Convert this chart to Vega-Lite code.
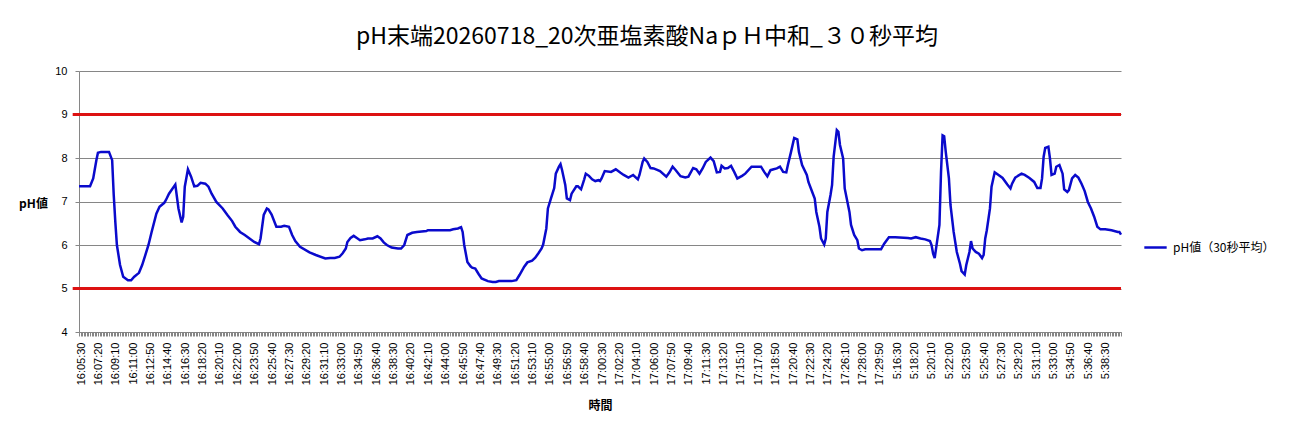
{
  "$schema": "https://vega.github.io/schema/vega-lite/v6.json",
  "autosize": {"type": "none"},
  "padding": {"left": 79, "top": 71, "right": 173, "bottom": 101},
  "width": 1042,
  "height": 261,
  "background": "white",
  "title": {
    "text": "pH末端20260718_20次亜塩素酸NaｐＨ中和_３０秒平均",
    "font": "Noto Sans CJK JP",
    "fontSize": 23,
    "fontWeight": "normal",
    "color": "#000000",
    "anchor": "middle",
    "dx": 47,
    "dy": 29,
    "baseline": "middle",
    "offset": 34
  },
  "config": {
    "view": {"stroke": null},
    "axis": {"domainColor": "#868686", "gridColor": "#868686", "tickColor": "#868686"},
    "axisY": {
      "values": [4, 5, 6, 7, 8, 9, 10],
      "grid": true,
      "tickSize": 4,
      "labelPadding": 8,
      "labelFont": "Liberation Sans",
      "labelFontSize": 11,
      "labelColor": "#000000",
      "titleFont": "Noto Sans CJK JP",
      "titleFontSize": 12,
      "titleFontWeight": "bold",
      "titleColor": "#000000",
      "titleAngle": 0,
      "titleX": -46,
      "titleY": 132,
      "titleAlign": "center",
      "titleBaseline": "middle"
    }
  },
  "resolve": {"axis": {"x": "independent"}},
  "layer": [
    {
      "data": {"values": [{"基準値": 9}, {"基準値": 5}]},
      "mark": {"type": "rule", "color": "#dd1111", "strokeWidth": 3},
      "encoding": {
        "y": {"field": "基準値", "type": "quantitative", "scale": {"domain": [4, 10]}, "title": "pH値"},
        "x": {
          "datum": -40,
          "type": "quantitative",
          "scale": {"domain": [0, 6600]},
          "axis": {"orient": "bottom", "tickCount": 660, "labels": false, "domain": false, "grid": false, "title": null, "tickSize": 4, "tickColor": "#868686"}
        },
        "x2": {"datum": 6600}
      }
    },
    {
      "data": {
        "values": [
          {"経過秒": 0, "pH値": 7.35}, {"経過秒": 70, "pH値": 7.35}, {"経過秒": 90, "pH値": 7.53}, {"経過秒": 110, "pH値": 7.95},
          {"経過秒": 120, "pH値": 8.12}, {"経過秒": 140, "pH値": 8.14}, {"経過秒": 190, "pH値": 8.14}, {"経過秒": 210, "pH値": 7.95},
          {"経過秒": 220, "pH値": 7.15}, {"経過秒": 230, "pH値": 6.53}, {"経過秒": 240, "pH値": 6.0}, {"経過秒": 260, "pH値": 5.54},
          {"経過秒": 280, "pH値": 5.27}, {"経過秒": 310, "pH値": 5.19}, {"経過秒": 330, "pH値": 5.19}, {"経過秒": 350, "pH値": 5.27},
          {"経過秒": 380, "pH値": 5.36}, {"経過秒": 400, "pH値": 5.54}, {"経過秒": 420, "pH値": 5.77}, {"経過秒": 440, "pH値": 6.0},
          {"経過秒": 460, "pH値": 6.3}, {"経過秒": 490, "pH値": 6.72}, {"経過秒": 510, "pH値": 6.88}, {"経過秒": 540, "pH値": 6.97},
          {"経過秒": 550, "pH値": 7.03}, {"経過秒": 570, "pH値": 7.18}, {"経過秒": 610, "pH値": 7.39}, {"経過秒": 630, "pH値": 6.84},
          {"経過秒": 650, "pH値": 6.52}, {"経過秒": 660, "pH値": 6.65}, {"経過秒": 670, "pH値": 7.34}, {"経過秒": 690, "pH値": 7.74},
          {"経過秒": 710, "pH値": 7.57}, {"経過秒": 730, "pH値": 7.35}, {"経過秒": 750, "pH値": 7.36}, {"経過秒": 770, "pH値": 7.43},
          {"経過秒": 800, "pH値": 7.41}, {"経過秒": 820, "pH値": 7.34}, {"経過秒": 840, "pH値": 7.18}, {"経過秒": 870, "pH値": 6.99},
          {"経過秒": 910, "pH値": 6.84}, {"経過秒": 940, "pH値": 6.69}, {"経過秒": 970, "pH値": 6.55}, {"経過秒": 990, "pH値": 6.42},
          {"経過秒": 1020, "pH値": 6.3}, {"経過秒": 1050, "pH値": 6.23}, {"経過秒": 1080, "pH値": 6.15}, {"経過秒": 1110, "pH値": 6.07},
          {"経過秒": 1140, "pH値": 6.02}, {"経過秒": 1150, "pH値": 6.15}, {"経過秒": 1170, "pH値": 6.69}, {"経過秒": 1190, "pH値": 6.84},
          {"経過秒": 1200, "pH値": 6.82}, {"経過秒": 1220, "pH値": 6.7}, {"経過秒": 1250, "pH値": 6.42}, {"経過秒": 1280, "pH値": 6.42},
          {"経過秒": 1300, "pH値": 6.44}, {"経過秒": 1330, "pH値": 6.42}, {"経過秒": 1350, "pH値": 6.23}, {"経過秒": 1370, "pH値": 6.09},
          {"経過秒": 1400, "pH値": 5.96}, {"経過秒": 1460, "pH値": 5.83}, {"経過秒": 1500, "pH値": 5.77}, {"経過秒": 1560, "pH値": 5.69},
          {"経過秒": 1590, "pH値": 5.7}, {"経過秒": 1620, "pH値": 5.7}, {"経過秒": 1650, "pH値": 5.73}, {"経過秒": 1670, "pH値": 5.81},
          {"経過秒": 1690, "pH値": 5.92}, {"経過秒": 1700, "pH値": 6.07}, {"経過秒": 1720, "pH値": 6.16}, {"経過秒": 1740, "pH値": 6.21},
          {"経過秒": 1760, "pH値": 6.16}, {"経過秒": 1780, "pH値": 6.11}, {"経過秒": 1810, "pH値": 6.13}, {"経過秒": 1830, "pH値": 6.15},
          {"経過秒": 1860, "pH値": 6.15}, {"経過秒": 1890, "pH値": 6.2}, {"経過秒": 1910, "pH値": 6.15}, {"経過秒": 1930, "pH値": 6.06},
          {"経過秒": 1950, "pH値": 6.0}, {"経過秒": 1980, "pH値": 5.94}, {"経過秒": 2020, "pH値": 5.92}, {"経過秒": 2040, "pH値": 5.92},
          {"経過秒": 2060, "pH値": 6.0}, {"経過秒": 2080, "pH値": 6.23}, {"経過秒": 2110, "pH値": 6.28}, {"経過秒": 2140, "pH値": 6.3},
          {"経過秒": 2200, "pH値": 6.32}, {"経過秒": 2210, "pH値": 6.34}, {"経過秒": 2270, "pH値": 6.34}, {"経過秒": 2350, "pH値": 6.34},
          {"経過秒": 2370, "pH値": 6.36}, {"経過秒": 2400, "pH値": 6.38}, {"経過秒": 2420, "pH値": 6.41}, {"経過秒": 2430, "pH値": 6.3},
          {"経過秒": 2440, "pH値": 6.0}, {"経過秒": 2460, "pH値": 5.61}, {"経過秒": 2480, "pH値": 5.51}, {"経過秒": 2490, "pH値": 5.48},
          {"経過秒": 2510, "pH値": 5.46}, {"経過秒": 2530, "pH値": 5.34}, {"経過秒": 2550, "pH値": 5.23}, {"経過秒": 2590, "pH値": 5.17},
          {"経過秒": 2620, "pH値": 5.15}, {"経過秒": 2640, "pH値": 5.15}, {"経過秒": 2660, "pH値": 5.17}, {"経過秒": 2700, "pH値": 5.17},
          {"経過秒": 2740, "pH値": 5.17}, {"経過秒": 2770, "pH値": 5.19}, {"経過秒": 2790, "pH値": 5.31}, {"経過秒": 2820, "pH値": 5.5},
          {"経過秒": 2840, "pH値": 5.6}, {"経過秒": 2870, "pH値": 5.64}, {"経過秒": 2890, "pH値": 5.71}, {"経過秒": 2910, "pH値": 5.81},
          {"経過秒": 2930, "pH値": 5.92}, {"経過秒": 2940, "pH値": 6.01}, {"経過秒": 2960, "pH値": 6.38}, {"経過秒": 2970, "pH値": 6.84},
          {"経過秒": 2990, "pH値": 7.08}, {"経過秒": 3010, "pH値": 7.31}, {"経過秒": 3020, "pH値": 7.64}, {"経過秒": 3040, "pH値": 7.8},
          {"経過秒": 3050, "pH値": 7.86}, {"経過秒": 3060, "pH値": 7.72}, {"経過秒": 3080, "pH値": 7.38}, {"経過秒": 3090, "pH値": 7.07},
          {"経過秒": 3110, "pH値": 7.03}, {"経過秒": 3120, "pH値": 7.18}, {"経過秒": 3150, "pH値": 7.35}, {"経過秒": 3160, "pH値": 7.35},
          {"経過秒": 3180, "pH値": 7.28}, {"経過秒": 3200, "pH値": 7.51}, {"経過秒": 3210, "pH値": 7.64}, {"経過秒": 3230, "pH値": 7.59},
          {"経過秒": 3250, "pH値": 7.51}, {"経過秒": 3270, "pH値": 7.47}, {"経過秒": 3290, "pH値": 7.49}, {"経過秒": 3300, "pH値": 7.47},
          {"経過秒": 3310, "pH値": 7.53}, {"経過秒": 3330, "pH値": 7.7}, {"経過秒": 3370, "pH値": 7.68}, {"経過秒": 3400, "pH値": 7.74},
          {"経過秒": 3430, "pH値": 7.66}, {"経過秒": 3450, "pH値": 7.61}, {"経過秒": 3480, "pH値": 7.55}, {"経過秒": 3510, "pH値": 7.61},
          {"経過秒": 3540, "pH値": 7.51}, {"経過秒": 3550, "pH値": 7.61}, {"経過秒": 3570, "pH値": 7.91}, {"経過秒": 3580, "pH値": 7.99},
          {"経過秒": 3600, "pH値": 7.91}, {"経過秒": 3620, "pH値": 7.77}, {"経過秒": 3640, "pH値": 7.76}, {"経過秒": 3680, "pH値": 7.7},
          {"経過秒": 3720, "pH値": 7.57}, {"経過秒": 3740, "pH値": 7.67}, {"経過秒": 3760, "pH値": 7.8}, {"経過秒": 3780, "pH値": 7.72},
          {"経過秒": 3810, "pH値": 7.58}, {"経過秒": 3840, "pH値": 7.55}, {"経過秒": 3860, "pH値": 7.57}, {"経過秒": 3890, "pH値": 7.77},
          {"経過秒": 3910, "pH値": 7.74}, {"経過秒": 3930, "pH値": 7.64}, {"経過秒": 3950, "pH値": 7.76}, {"経過秒": 3970, "pH値": 7.91},
          {"経過秒": 4000, "pH値": 8.01}, {"経過秒": 4020, "pH値": 7.93}, {"経過秒": 4040, "pH値": 7.67}, {"経過秒": 4060, "pH値": 7.68},
          {"経過秒": 4070, "pH値": 7.82}, {"経過秒": 4090, "pH値": 7.76}, {"経過秒": 4110, "pH値": 7.77}, {"経過秒": 4130, "pH値": 7.82},
          {"経過秒": 4150, "pH値": 7.68}, {"経過秒": 4170, "pH値": 7.53}, {"経過秒": 4200, "pH値": 7.59}, {"経過秒": 4220, "pH値": 7.64},
          {"経過秒": 4260, "pH値": 7.8}, {"経過秒": 4300, "pH値": 7.8}, {"経過秒": 4320, "pH値": 7.8}, {"経過秒": 4340, "pH値": 7.68},
          {"経過秒": 4360, "pH値": 7.58}, {"経過秒": 4380, "pH値": 7.72}, {"経過秒": 4400, "pH値": 7.74}, {"経過秒": 4420, "pH値": 7.76},
          {"経過秒": 4440, "pH値": 7.8}, {"経過秒": 4460, "pH値": 7.68}, {"経過秒": 4480, "pH値": 7.67}, {"経過秒": 4490, "pH値": 7.84},
          {"経過秒": 4510, "pH値": 8.14}, {"経過秒": 4530, "pH値": 8.46}, {"経過秒": 4550, "pH値": 8.43}, {"経過秒": 4560, "pH値": 8.14},
          {"経過秒": 4580, "pH値": 7.84}, {"経過秒": 4610, "pH値": 7.61}, {"経過秒": 4620, "pH値": 7.45}, {"経過秒": 4640, "pH値": 7.26},
          {"経過秒": 4660, "pH値": 7.07}, {"経過秒": 4670, "pH値": 6.76}, {"経過秒": 4690, "pH値": 6.42}, {"経過秒": 4700, "pH値": 6.15},
          {"経過秒": 4720, "pH値": 6.01}, {"経過秒": 4730, "pH値": 6.15}, {"経過秒": 4740, "pH値": 6.76}, {"経過秒": 4760, "pH値": 7.15},
          {"経過秒": 4770, "pH値": 7.38}, {"経過秒": 4780, "pH値": 8.03}, {"経過秒": 4800, "pH値": 8.64}, {"経過秒": 4810, "pH値": 8.6},
          {"経過秒": 4820, "pH値": 8.3}, {"経過秒": 4840, "pH値": 7.99}, {"経過秒": 4850, "pH値": 7.3}, {"経過秒": 4880, "pH値": 6.76},
          {"経過秒": 4890, "pH値": 6.46}, {"経過秒": 4910, "pH値": 6.23}, {"経過秒": 4930, "pH値": 6.11}, {"経過秒": 4940, "pH値": 5.92},
          {"経過秒": 4960, "pH値": 5.88}, {"経過秒": 4980, "pH値": 5.9}, {"経過秒": 5020, "pH値": 5.9}, {"経過秒": 5080, "pH値": 5.9},
          {"経過秒": 5100, "pH値": 6.03}, {"経過秒": 5130, "pH値": 6.18}, {"経過秒": 5170, "pH値": 6.18}, {"経過秒": 5250, "pH値": 6.16},
          {"経過秒": 5270, "pH値": 6.15}, {"経過秒": 5300, "pH値": 6.18}, {"経過秒": 5330, "pH値": 6.15}, {"経過秒": 5360, "pH値": 6.13},
          {"経過秒": 5390, "pH値": 6.09}, {"経過秒": 5400, "pH値": 6.0}, {"経過秒": 5410, "pH値": 5.8}, {"経過秒": 5420, "pH値": 5.7},
          {"経過秒": 5450, "pH値": 6.46}, {"経過秒": 5460, "pH値": 7.68}, {"経過秒": 5470, "pH値": 8.52}, {"経過秒": 5480, "pH値": 8.5},
          {"経過秒": 5490, "pH値": 8.14}, {"経過秒": 5510, "pH値": 7.53}, {"経過秒": 5520, "pH値": 6.92}, {"経過秒": 5540, "pH値": 6.3},
          {"経過秒": 5560, "pH値": 5.84}, {"経過秒": 5580, "pH値": 5.57}, {"経過秒": 5590, "pH値": 5.4}, {"経過秒": 5610, "pH値": 5.32},
          {"経過秒": 5620, "pH値": 5.54}, {"経過秒": 5640, "pH値": 5.84}, {"経過秒": 5650, "pH値": 6.09}, {"経過秒": 5660, "pH値": 5.92},
          {"経過秒": 5680, "pH値": 5.84}, {"経過秒": 5700, "pH値": 5.8}, {"経過秒": 5720, "pH値": 5.7}, {"経過秒": 5730, "pH値": 5.77},
          {"経過秒": 5740, "pH値": 6.15}, {"経過秒": 5750, "pH値": 6.34}, {"経過秒": 5770, "pH値": 6.84}, {"経過秒": 5780, "pH値": 7.34},
          {"経過秒": 5800, "pH値": 7.67}, {"経過秒": 5820, "pH値": 7.62}, {"経過秒": 5850, "pH値": 7.54}, {"経過秒": 5880, "pH値": 7.39},
          {"経過秒": 5900, "pH値": 7.3}, {"経過秒": 5910, "pH値": 7.41}, {"経過秒": 5930, "pH値": 7.55}, {"経過秒": 5970, "pH値": 7.64},
          {"経過秒": 5990, "pH値": 7.61}, {"経過秒": 6020, "pH値": 7.54}, {"経過秒": 6050, "pH値": 7.45}, {"経過秒": 6070, "pH値": 7.31},
          {"経過秒": 6090, "pH値": 7.31}, {"経過秒": 6100, "pH値": 7.53}, {"経過秒": 6110, "pH値": 8.03}, {"経過秒": 6120, "pH値": 8.23},
          {"経過秒": 6140, "pH値": 8.26}, {"経過秒": 6150, "pH値": 7.99}, {"経過秒": 6160, "pH値": 7.61}, {"経過秒": 6180, "pH値": 7.64},
          {"経過秒": 6190, "pH値": 7.8}, {"経過秒": 6210, "pH値": 7.84}, {"経過秒": 6230, "pH値": 7.64}, {"経過秒": 6240, "pH値": 7.28},
          {"経過秒": 6260, "pH値": 7.22}, {"経過秒": 6270, "pH値": 7.26}, {"経過秒": 6290, "pH値": 7.53}, {"経過秒": 6310, "pH値": 7.61},
          {"経過秒": 6330, "pH値": 7.55}, {"経過秒": 6350, "pH値": 7.41}, {"経過秒": 6370, "pH値": 7.24}, {"経過秒": 6390, "pH値": 6.99},
          {"経過秒": 6410, "pH値": 6.84}, {"経過秒": 6430, "pH値": 6.65}, {"経過秒": 6450, "pH値": 6.42}, {"経過秒": 6470, "pH値": 6.36},
          {"経過秒": 6500, "pH値": 6.36}, {"経過秒": 6540, "pH値": 6.34}, {"経過秒": 6580, "pH値": 6.3}, {"経過秒": 6590, "pH値": 6.3},
          {"経過秒": 6600, "pH値": 6.24}
        ]
      },
      "mark": {"type": "line", "strokeWidth": 2.5},
      "encoding": {
        "x": {
          "field": "経過秒",
          "type": "quantitative",
          "scale": {"domain": [0, 6600]},
          "axis": {
            "orient": "bottom",
            "values": [0, 110, 220, 330, 440, 550, 660, 770, 880, 990, 1100, 1210, 1320, 1430, 1540, 1650, 1760, 1870, 1980, 2090, 2200, 2310, 2420, 2530, 2640, 2750, 2860, 2970, 3080, 3190, 3300, 3410, 3520, 3630, 3740, 3850, 3960, 4070, 4180, 4290, 4400, 4510, 4620, 4730, 4840, 4950, 5060, 5170, 5280, 5390, 5500, 5610, 5720, 5830, 5940, 6050, 6160, 6270, 6380, 6490],
            "labelExpr": "datum.value < 5170 ? timeFormat(datetime(2026, 6, 18, 16, 5, 30 + datum.value), '%H:%M:%S') : timeFormat(datetime(2026, 6, 18, 5, 16, 30 + datum.value - 5170), '%-H:%M:%S')",
            "labelAngle": 270,
            "labelFont": "Liberation Sans",
            "labelFontSize": 11,
            "labelColor": "#000000",
            "labelPadding": 10,
            "labelOverlap": false,
            "labelFlush": false,
            "labelOffset": 2,
            "ticks": false,
            "grid": false,
            "title": "時間",
            "titleFont": "Noto Sans CJK JP",
            "titleFontSize": 12,
            "titleFontWeight": "bold",
            "titleColor": "#000000",
            "titleX": 521,
            "titleY": 73,
            "titleBaseline": "middle"
          }
        },
        "y": {
          "field": "pH値",
          "type": "quantitative",
          "scale": {"domain": [4, 10]},
          "title": "pH値"
        },
        "color": {
          "datum": "pH値（30秒平均）",
          "scale": {"range": ["#0a0acc"]},
          "legend": {
            "title": null,
            "orient": "none",
            "legendX": 1064,
            "legendY": 164,
            "padding": 0,
            "symbolType": "stroke",
            "symbolSize": 500,
            "symbolStrokeWidth": 2.5,
            "labelFont": "Noto Sans CJK JP",
            "labelFontSize": 12,
            "labelColor": "#000000",
            "labelOffset": 5
          }
        }
      }
    }
  ]
}
